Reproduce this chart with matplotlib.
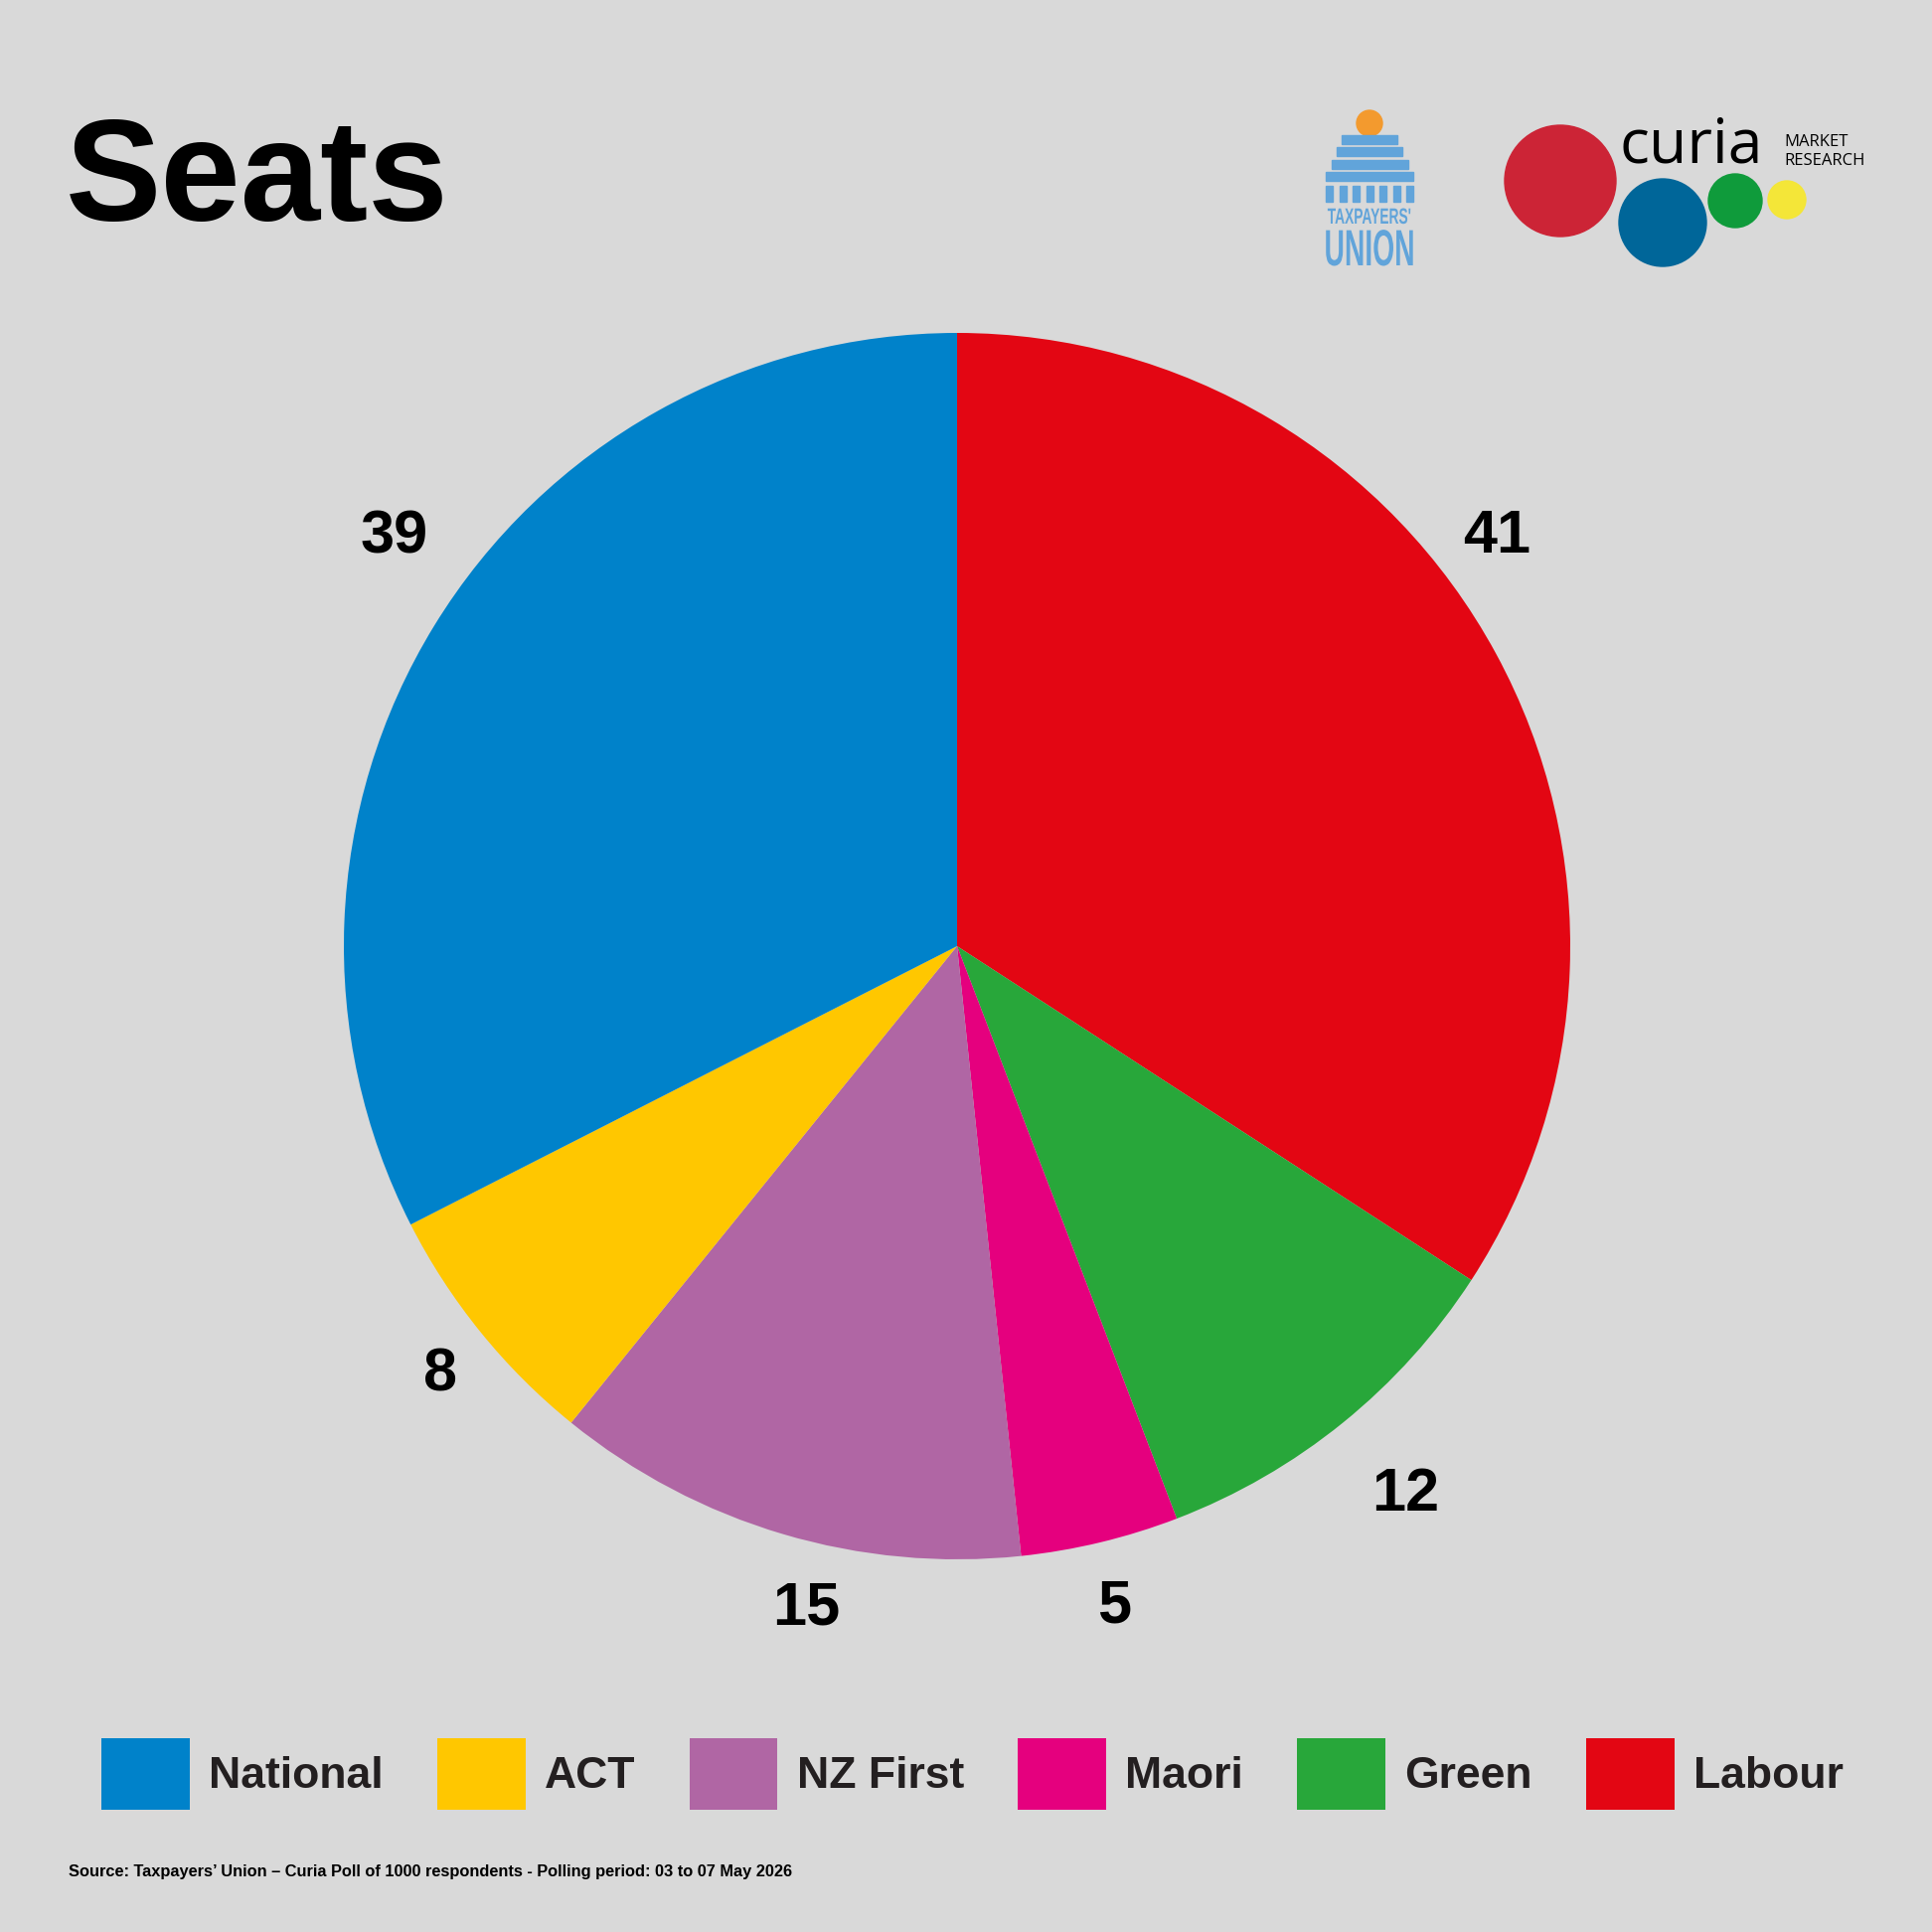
import matplotlib.pyplot as plt
from matplotlib.patches import Patch, Circle, Rectangle
from matplotlib import patheffects
from matplotlib.transforms import Affine2D
import numpy as np

# data
parties = ["Labour", "Green", "Maori", "NZ First", "ACT", "National"]
seats = [41, 12, 5, 15, 8, 39]
colours = ["#e30613", "#28a73a", "#e5007e", "#b066a4", "#ffc700", "#0082ca"]
legend_order = ["National", "ACT", "NZ First", "Maori", "Green", "Labour"]
# small nudges for the value labels: angle (deg) and distance from centre
label_shift = [9, 0.5, 0, 3.6, 0.4, -4.8]
label_dist = [1.11, 1.15, 1.10, 1.10, 1.09, 1.14]

BG = "#d9d9d9"
BOLD = ["Liberation Sans", "DejaVu Sans"]
DPI = 100


class Squeeze(patheffects.AbstractPathEffect):
    """draw text narrower around a fixed x (display pixels)"""
    def __init__(self, sx, x0):
        super().__init__()
        self.sx, self.x0 = sx, x0

    def draw_path(self, renderer, gc, tpath, affine, rgbFace=None):
        t = affine + Affine2D().translate(-self.x0, 0).scale(self.sx, 1).translate(self.x0, 0)
        renderer.draw_path(gc, tpath, t, rgbFace)


fig = plt.figure(figsize=(19.44, 19.44), dpi=DPI, facecolor=BG)

# logos drawn in pixel space
lg = fig.add_axes([0, 0, 1, 1], zorder=0)
lg.set_xlim(0, 1944)
lg.set_ylim(1944, 0)
lg.axis("off")
lg.patch.set_alpha(0)

tu_blue = "#61a4da"
lg.add_patch(Circle((1378, 124), 13, color="#f39a2e"))
for (x0, x1, y0) in [(1350, 1406, 136), (1345, 1411, 148), (1340, 1417, 161), (1334, 1422, 173)]:
    lg.add_patch(Rectangle((x0, y0), x1 - x0, 9, color=tu_blue))
for i in range(7):
    lg.add_patch(Rectangle((1334 + i * 13.5, 187), 7, 16, color=tu_blue))
lg.text(1378, 225, "TAXPAYERS'", color=tu_blue, fontsize=16, fontweight="bold",
        family=BOLD, ha="center", va="baseline",
        path_effects=[Squeeze(0.62, 1378)])
lg.text(1378, 267, "UNION", color=tu_blue, fontsize=37, fontweight="bold",
        family=BOLD, ha="center", va="baseline",
        path_effects=[Squeeze(0.55, 1378)])

lg.add_patch(Circle((1570, 182), 56, color="#cc2436"))
lg.add_patch(Circle((1673, 224), 44, color="#006699"))
lg.add_patch(Circle((1746, 202), 27, color="#0f9b3b"))
lg.add_patch(Circle((1798, 201), 19, color="#f4e638"))
lg.text(1629, 164, "curia", color="black", fontsize=45, family="Open Sans",
        ha="left", va="baseline")
lg.text(1795, 147, "MARKET", color="black", fontsize=12, family="Open Sans",
        ha="left", va="baseline")
lg.text(1795, 166, "RESEARCH", color="black", fontsize=12, family="Open Sans",
        ha="left", va="baseline")

# title
fig.text(0.034, 0.886, "Seats", fontsize=104, fontweight="bold", family=BOLD,
         va="baseline", ha="left", color="black")

# pie
cx, cy, r = 963 / 1944, 1 - 952 / 1944, 617 / 1944
ax = fig.add_axes([cx - r, cy - r, 2 * r, 2 * r], zorder=1)
ax.set_facecolor("none")
wedges, _ = ax.pie(seats, colors=colours, startangle=90, counterclock=False,
                   radius=1, wedgeprops=dict(linewidth=0))
ax.set_xlim(-1, 1)
ax.set_ylim(-1, 1)
ax.set_aspect("equal")
ax.axis("off")

for w, v, s, d in zip(wedges, seats, label_shift, label_dist):
    ang = np.deg2rad((w.theta1 + w.theta2) / 2 + s)
    ax.text(d * np.cos(ang), d * np.sin(ang) - 0.008, str(v), fontsize=44,
            fontweight="bold", family=BOLD, ha="center", va="center",
            color="black", clip_on=False)

# legend
handles = [Patch(facecolor=colours[parties.index(p)], edgecolor="none", label=p)
           for p in legend_order]
leg = fig.legend(handles=handles, loc="center left", bbox_to_anchor=(102 / 1944, 1 - 1785 / 1944),
                 ncol=6, frameon=False, borderpad=0, borderaxespad=0,
                 handlelength=2.0, handleheight=2.12, handletextpad=0.43,
                 columnspacing=1.22, prop=dict(family=BOLD, weight="bold", size=32))
for t in leg.get_texts():
    t.set_color("#231f20")

fig.text(0.0355, 1 - 1883 / 1944,
         "Source: Taxpayers\u2019 Union \u2013 Curia Poll of 1000 respondents - "
         "Polling period: 03 to 07 May 2026",
         fontsize=11.8, fontweight="bold", family=BOLD, va="center", ha="left",
         color="black")

fig.savefig("out.png", dpi=DPI, facecolor=BG)
